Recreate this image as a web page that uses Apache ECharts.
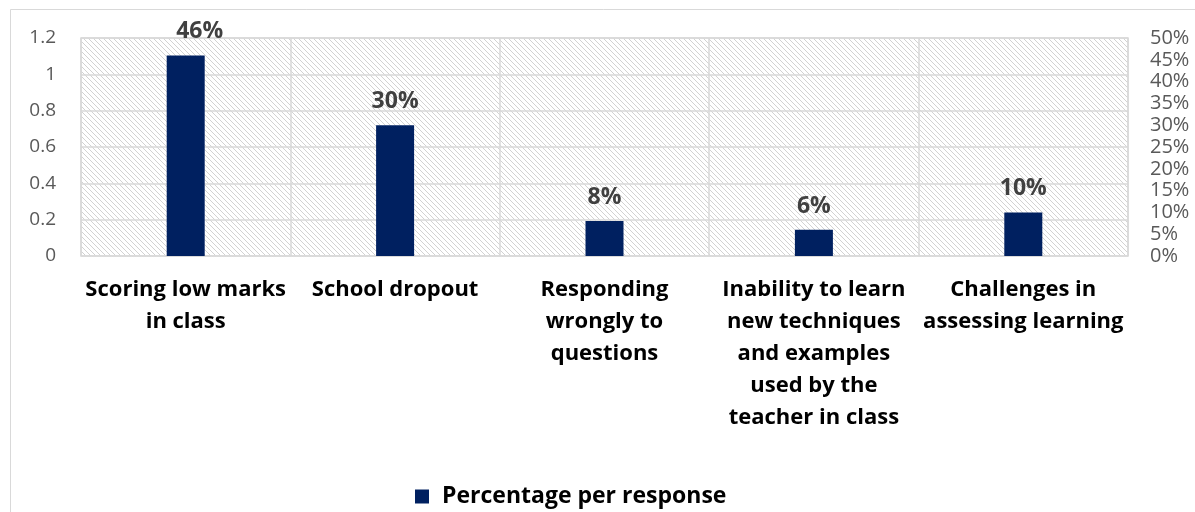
<!DOCTYPE html>
<html>
<head>
<meta charset="utf-8">
<script src="https://cdn.jsdelivr.net/npm/echarts@6/dist/echarts.min.js"></script>
<style>
html,body{margin:0;padding:0;background:#fff;}
#chart{width:1195px;height:512px;}
</style>
</head>
<body>
<div id="chart"></div>
<script>
var categories = [
  "Scoring low marks\nin class",
  "School dropout",
  "Responding\nwrongly to\nquestions",
  "Inability to learn\nnew techniques\nand examples\nused by the\nteacher in class",
  "Challenges in\nassessing learning"
];
var percentValues = [46, 30, 8, 6, 10];
var seriesName = "Percentage per response";

var FONT = "'Open Sans', 'Noto Sans', sans-serif";

function makeHatch() {
  var c = document.createElement('canvas');
  var s = 5;
  c.width = s; c.height = s;
  var ctx = c.getContext('2d');
  ctx.fillStyle = '#ffffff';
  ctx.fillRect(0, 0, s, s);
  ctx.fillStyle = '#d2d2d2';
  for (var i = 0; i < s; i++) ctx.fillRect(i, i, 1, 1);
  return c;
}

var barData = percentValues.map(function (v, i) {
  // the top label of the tallest bar is nudged right, as in the source
  return i === 0 ? {value: v, label: {offset: [14, 0]}} : v;
});

var chart = echarts.init(document.getElementById('chart'), null, {renderer: 'canvas'});
chart.setOption({
  backgroundColor: '#ffffff',
  animation: false,
  graphic: [{
    type: 'rect',
    shape: {x: 10.5, y: 9.5, width: 1200, height: 520},
    style: {fill: 'none', stroke: '#d9d9d9', lineWidth: 1},
    silent: true, z: -1
  }],
  grid: {
    left: 81, right: 67, top: 38, bottom: 256,
    show: true,
    backgroundColor: {image: makeHatch(), repeat: 'repeat'},
    borderColor: '#d9d9d9',
    borderWidth: 1.5
  },
  legend: {
    left: 410, top: 480,
    itemWidth: 14, itemHeight: 14, itemGap: 10,
    icon: 'rect',
    textStyle: {fontFamily: FONT, fontWeight: 'bold', fontSize: 23, color: '#000000', padding: [0, 0, 0, 8]},
    data: [seriesName]
  },
  xAxis: {
    type: 'category',
    data: categories,
    axisLine: {show: false},
    axisTick: {show: false},
    splitLine: {show: true, interval: 0, lineStyle: {color: '#d9d9d9', width: 1.5}},
    axisLabel: {
      interval: 0, margin: 18,
      fontFamily: FONT, fontWeight: 'bold', fontSize: 22, color: '#000000',
      lineHeight: 32, align: 'center', verticalAlign: 'top'
    }
  },
  yAxis: [{
    type: 'value', min: 0, max: 1.2, interval: 0.2,
    position: 'left',
    axisLine: {show: false}, axisTick: {show: false},
    splitLine: {show: true, lineStyle: {color: '#d9d9d9', width: 1.5}},
    axisLabel: {
      margin: 25, fontFamily: FONT, fontSize: 19, color: '#595959',
      formatter: function (v) { return String(Math.round(v * 10) / 10); }
    }
  }, {
    type: 'value', min: 0, max: 50, interval: 5,
    position: 'right',
    axisLine: {show: false}, axisTick: {show: false},
    splitLine: {show: false},
    axisLabel: {
      margin: 22, fontFamily: FONT, fontSize: 20, color: '#595959',
      lineHeight: 20,
      formatter: '{value}%'
    }
  }],
  series: [{
    name: seriesName,
    type: 'bar',
    yAxisIndex: 1,
    data: barData,
    barWidth: 38,
    itemStyle: {color: '#002060'},
    label: {
      show: true, position: 'top', distance: 12,
      formatter: '{c}%',
      fontFamily: FONT, fontWeight: 'bold', fontSize: 23, color: '#404040'
    }
  }]
});
</script>
</body>
</html>
